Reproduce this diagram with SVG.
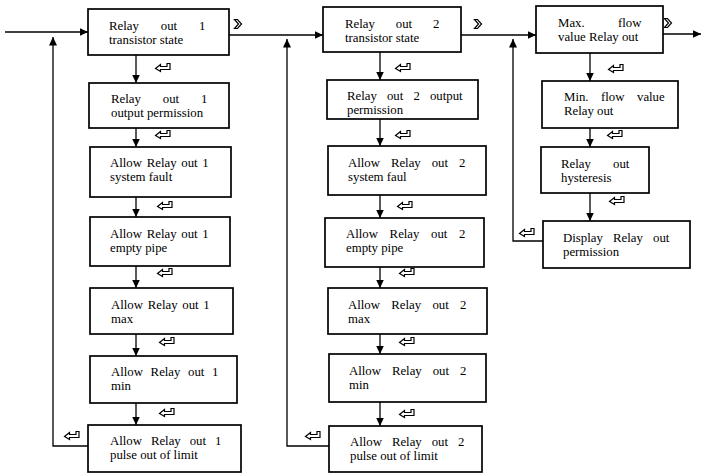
<svg xmlns="http://www.w3.org/2000/svg" xmlns:xlink="http://www.w3.org/1999/xlink" width="702" height="473" viewBox="0 0 702 473">
  <style>
    .box { fill: #ffffff; stroke: #000000; stroke-width: 1.7; }
    .lbl { font-family: "Liberation Serif", "Times New Roman", serif; font-size: 12.8px; fill: #000000; }
    .wire { fill: none; stroke: #000000; stroke-width: 1.3; }
    .icon { fill: #ffffff; stroke: #000000; stroke-width: 1.2; stroke-linejoin: miter; }
  </style>
  <defs>
    <marker id="head" markerUnits="userSpaceOnUse" markerWidth="9" markerHeight="8" refX="8.5" refY="4" orient="auto">
      <path d="M0,0 L8.5,4 L0,8 Z" fill="#000000"/>
    </marker>
    <!-- Enter key symbol -->
    <path id="ret" class="icon" d="M-7.5,0.5 L-2.5,-3.5 L-2.5,-1.5 L4,-1.5 L4,-4.5 L7,-4.5 L7,1.5 L-2.5,1.5 L-2.5,3.5 Z"/>
    <!-- Next-column key symbol -->
    <path id="next" class="icon" d="M-3.5,-4.5 L-0.5,-4.5 L3.5,0 L-0.5,4.5 L-3.5,4.5 L0.5,0 Z"/>
  </defs>

  <rect width="702" height="473" fill="#ffffff"/>

  <!-- connectors -->
  <g id="connectors">
    <!-- entry and column links -->
    <path class="wire" d="M5,32 H88" marker-end="url(#head)"/>
    <path class="wire" d="M229,35 H323" marker-end="url(#head)"/>
    <path class="wire" d="M461,35 H536" marker-end="url(#head)"/>
    <path class="wire" d="M663,34 H701" marker-end="url(#head)"/>

    <!-- column 1 chain -->
    <path class="wire" d="M136,55 V83" marker-end="url(#head)"/>
    <path class="wire" d="M136,128 V147" marker-end="url(#head)"/>
    <path class="wire" d="M136,197 V217" marker-end="url(#head)"/>
    <path class="wire" d="M136,266 V288" marker-end="url(#head)"/>
    <path class="wire" d="M136,334 V356" marker-end="url(#head)"/>
    <path class="wire" d="M136,403 V425" marker-end="url(#head)"/>
    <path class="wire" d="M88,446 H53 V37" marker-end="url(#head)"/>

    <!-- column 2 chain -->
    <path class="wire" d="M380,52 V80" marker-end="url(#head)"/>
    <path class="wire" d="M380,119 V146" marker-end="url(#head)"/>
    <path class="wire" d="M380,195 V218" marker-end="url(#head)"/>
    <path class="wire" d="M380,267 V288" marker-end="url(#head)"/>
    <path class="wire" d="M380,334 V354" marker-end="url(#head)"/>
    <path class="wire" d="M380,402 V426" marker-end="url(#head)"/>
    <path class="wire" d="M329,446 H287 V39" marker-end="url(#head)"/>

    <!-- column 3 chain -->
    <path class="wire" d="M590,53 V81" marker-end="url(#head)"/>
    <path class="wire" d="M590,128 V147" marker-end="url(#head)"/>
    <path class="wire" d="M590,193 V221" marker-end="url(#head)"/>
    <path class="wire" d="M543,241 H513 V39" marker-end="url(#head)"/>

    <!-- key symbols -->
    <use xlink:href="#next" x="238" y="24"/>
    <use xlink:href="#next" x="478" y="24"/>
    <use xlink:href="#next" x="668" y="23"/>

    <use xlink:href="#ret" x="163" y="68"/>
    <use xlink:href="#ret" x="163" y="135"/>
    <use xlink:href="#ret" x="165" y="206"/>
    <use xlink:href="#ret" x="165" y="273"/>
    <use xlink:href="#ret" x="167" y="342"/>
    <use xlink:href="#ret" x="167" y="413"/>
    <use xlink:href="#ret" x="72" y="436"/>

    <use xlink:href="#ret" x="403" y="68"/>
    <use xlink:href="#ret" x="403" y="135"/>
    <use xlink:href="#ret" x="405" y="206"/>
    <use xlink:href="#ret" x="407" y="273"/>
    <use xlink:href="#ret" x="407" y="342"/>
    <use xlink:href="#ret" x="407" y="414"/>
    <use xlink:href="#ret" x="313" y="436"/>

    <use xlink:href="#ret" x="616" y="69"/>
    <use xlink:href="#ret" x="615" y="135"/>
    <use xlink:href="#ret" x="617" y="201"/>
    <use xlink:href="#ret" x="527" y="233"/>
  </g>

  <!-- column 1: relay output 1 -->
  <g id="r1-transistor">
    <rect class="box" x="88" y="9" width="141" height="46"/>
    <text class="lbl" x="109" y="29.5" word-spacing="18.7">Relay out 1</text>
    <text class="lbl" x="109" y="43.7">transistor state</text>
  </g>
  <g id="r1-permission">
    <rect class="box" x="89" y="83" width="140" height="45"/>
    <text class="lbl" x="111" y="102.5" word-spacing="18.7">Relay out 1</text>
    <text class="lbl" x="111" y="116.7">output permission</text>
  </g>
  <g id="r1-fault">
    <rect class="box" x="90" y="147" width="141" height="50"/>
    <text class="lbl" x="110" y="166.5" word-spacing="1.5">Allow Relay out 1</text>
    <text class="lbl" x="110" y="180.7">system fault</text>
  </g>
  <g id="r1-empty">
    <rect class="box" x="90" y="217" width="140" height="49"/>
    <text class="lbl" x="110" y="237.5" word-spacing="1.5">Allow Relay out 1</text>
    <text class="lbl" x="110" y="251.7">empty pipe</text>
  </g>
  <g id="r1-max">
    <rect class="box" x="90" y="288" width="143" height="46"/>
    <text class="lbl" x="111" y="308.5" word-spacing="1.5">Allow Relay out 1</text>
    <text class="lbl" x="111" y="322.7">max</text>
  </g>
  <g id="r1-min">
    <rect class="box" x="90" y="356" width="147" height="47"/>
    <text class="lbl" x="111" y="375.5" word-spacing="4.4">Allow Relay out 1</text>
    <text class="lbl" x="111" y="389.7">min</text>
  </g>
  <g id="r1-pulse">
    <rect class="box" x="88" y="425" width="153" height="47"/>
    <text class="lbl" x="110" y="444.5" word-spacing="5.7">Allow Relay out 1</text>
    <text class="lbl" x="110" y="458.7">pulse out of limit</text>
  </g>

  <!-- column 2: relay output 2 -->
  <g id="r2-transistor">
    <rect class="box" x="323" y="7" width="138" height="45"/>
    <text class="lbl" x="345" y="27.5" word-spacing="17.7">Relay out 2</text>
    <text class="lbl" x="345" y="41.7">transistor state</text>
  </g>
  <g id="r2-permission">
    <rect class="box" x="327" y="80" width="151" height="39"/>
    <text class="lbl" x="347" y="100" word-spacing="6.9">Relay out 2 output</text>
    <text class="lbl" x="347" y="114.2">permission</text>
  </g>
  <g id="r2-fault">
    <rect class="box" x="328" y="146" width="158" height="49"/>
    <text class="lbl" x="348" y="166.5" word-spacing="7.7">Allow Relay out 2</text>
    <text class="lbl" x="348" y="180.7">system faul</text>
  </g>
  <g id="r2-empty">
    <rect class="box" x="325" y="218" width="159" height="49"/>
    <text class="lbl" x="346" y="238" word-spacing="8.4">Allow Relay out 2</text>
    <text class="lbl" x="346" y="252.2">empty pipe</text>
  </g>
  <g id="r2-max">
    <rect class="box" x="328" y="288" width="159" height="46"/>
    <text class="lbl" x="348" y="308.5" word-spacing="8.1">Allow Relay out 2</text>
    <text class="lbl" x="348" y="322.7">max</text>
  </g>
  <g id="r2-min">
    <rect class="box" x="329" y="354" width="157" height="48"/>
    <text class="lbl" x="349" y="374.5" word-spacing="7.7">Allow Relay out 2</text>
    <text class="lbl" x="349" y="388.7">min</text>
  </g>
  <g id="r2-pulse">
    <rect class="box" x="329" y="426" width="153" height="46"/>
    <text class="lbl" x="350" y="445.5" word-spacing="6.7">Allow Relay out 2</text>
    <text class="lbl" x="350" y="459.7">pulse out of limit</text>
  </g>

  <!-- column 3: flow limits -->
  <g id="flow-max">
    <rect class="box" x="536" y="6" width="127" height="47"/>
    <text class="lbl" x="558" y="26.5" word-spacing="30.1">Max. flow</text>
    <text class="lbl" x="558" y="40.7">value Relay out</text>
  </g>
  <g id="flow-min">
    <rect class="box" x="542" y="81" width="136" height="47"/>
    <text class="lbl" x="564" y="100.5" word-spacing="9.3">Min. flow value</text>
    <text class="lbl" x="564" y="114.7">Relay out</text>
  </g>
  <g id="hysteresis">
    <rect class="box" x="541" y="147" width="108" height="46"/>
    <text class="lbl" x="561" y="167.5" word-spacing="18.95">Relay out</text>
    <text class="lbl" x="561" y="181.7">hysteresis</text>
  </g>
  <g id="display-permission">
    <rect class="box" x="543" y="221" width="147" height="47"/>
    <text class="lbl" x="563" y="241.5" word-spacing="7">Display Relay out</text>
    <text class="lbl" x="563" y="255.7">permission</text>
  </g>
</svg>
